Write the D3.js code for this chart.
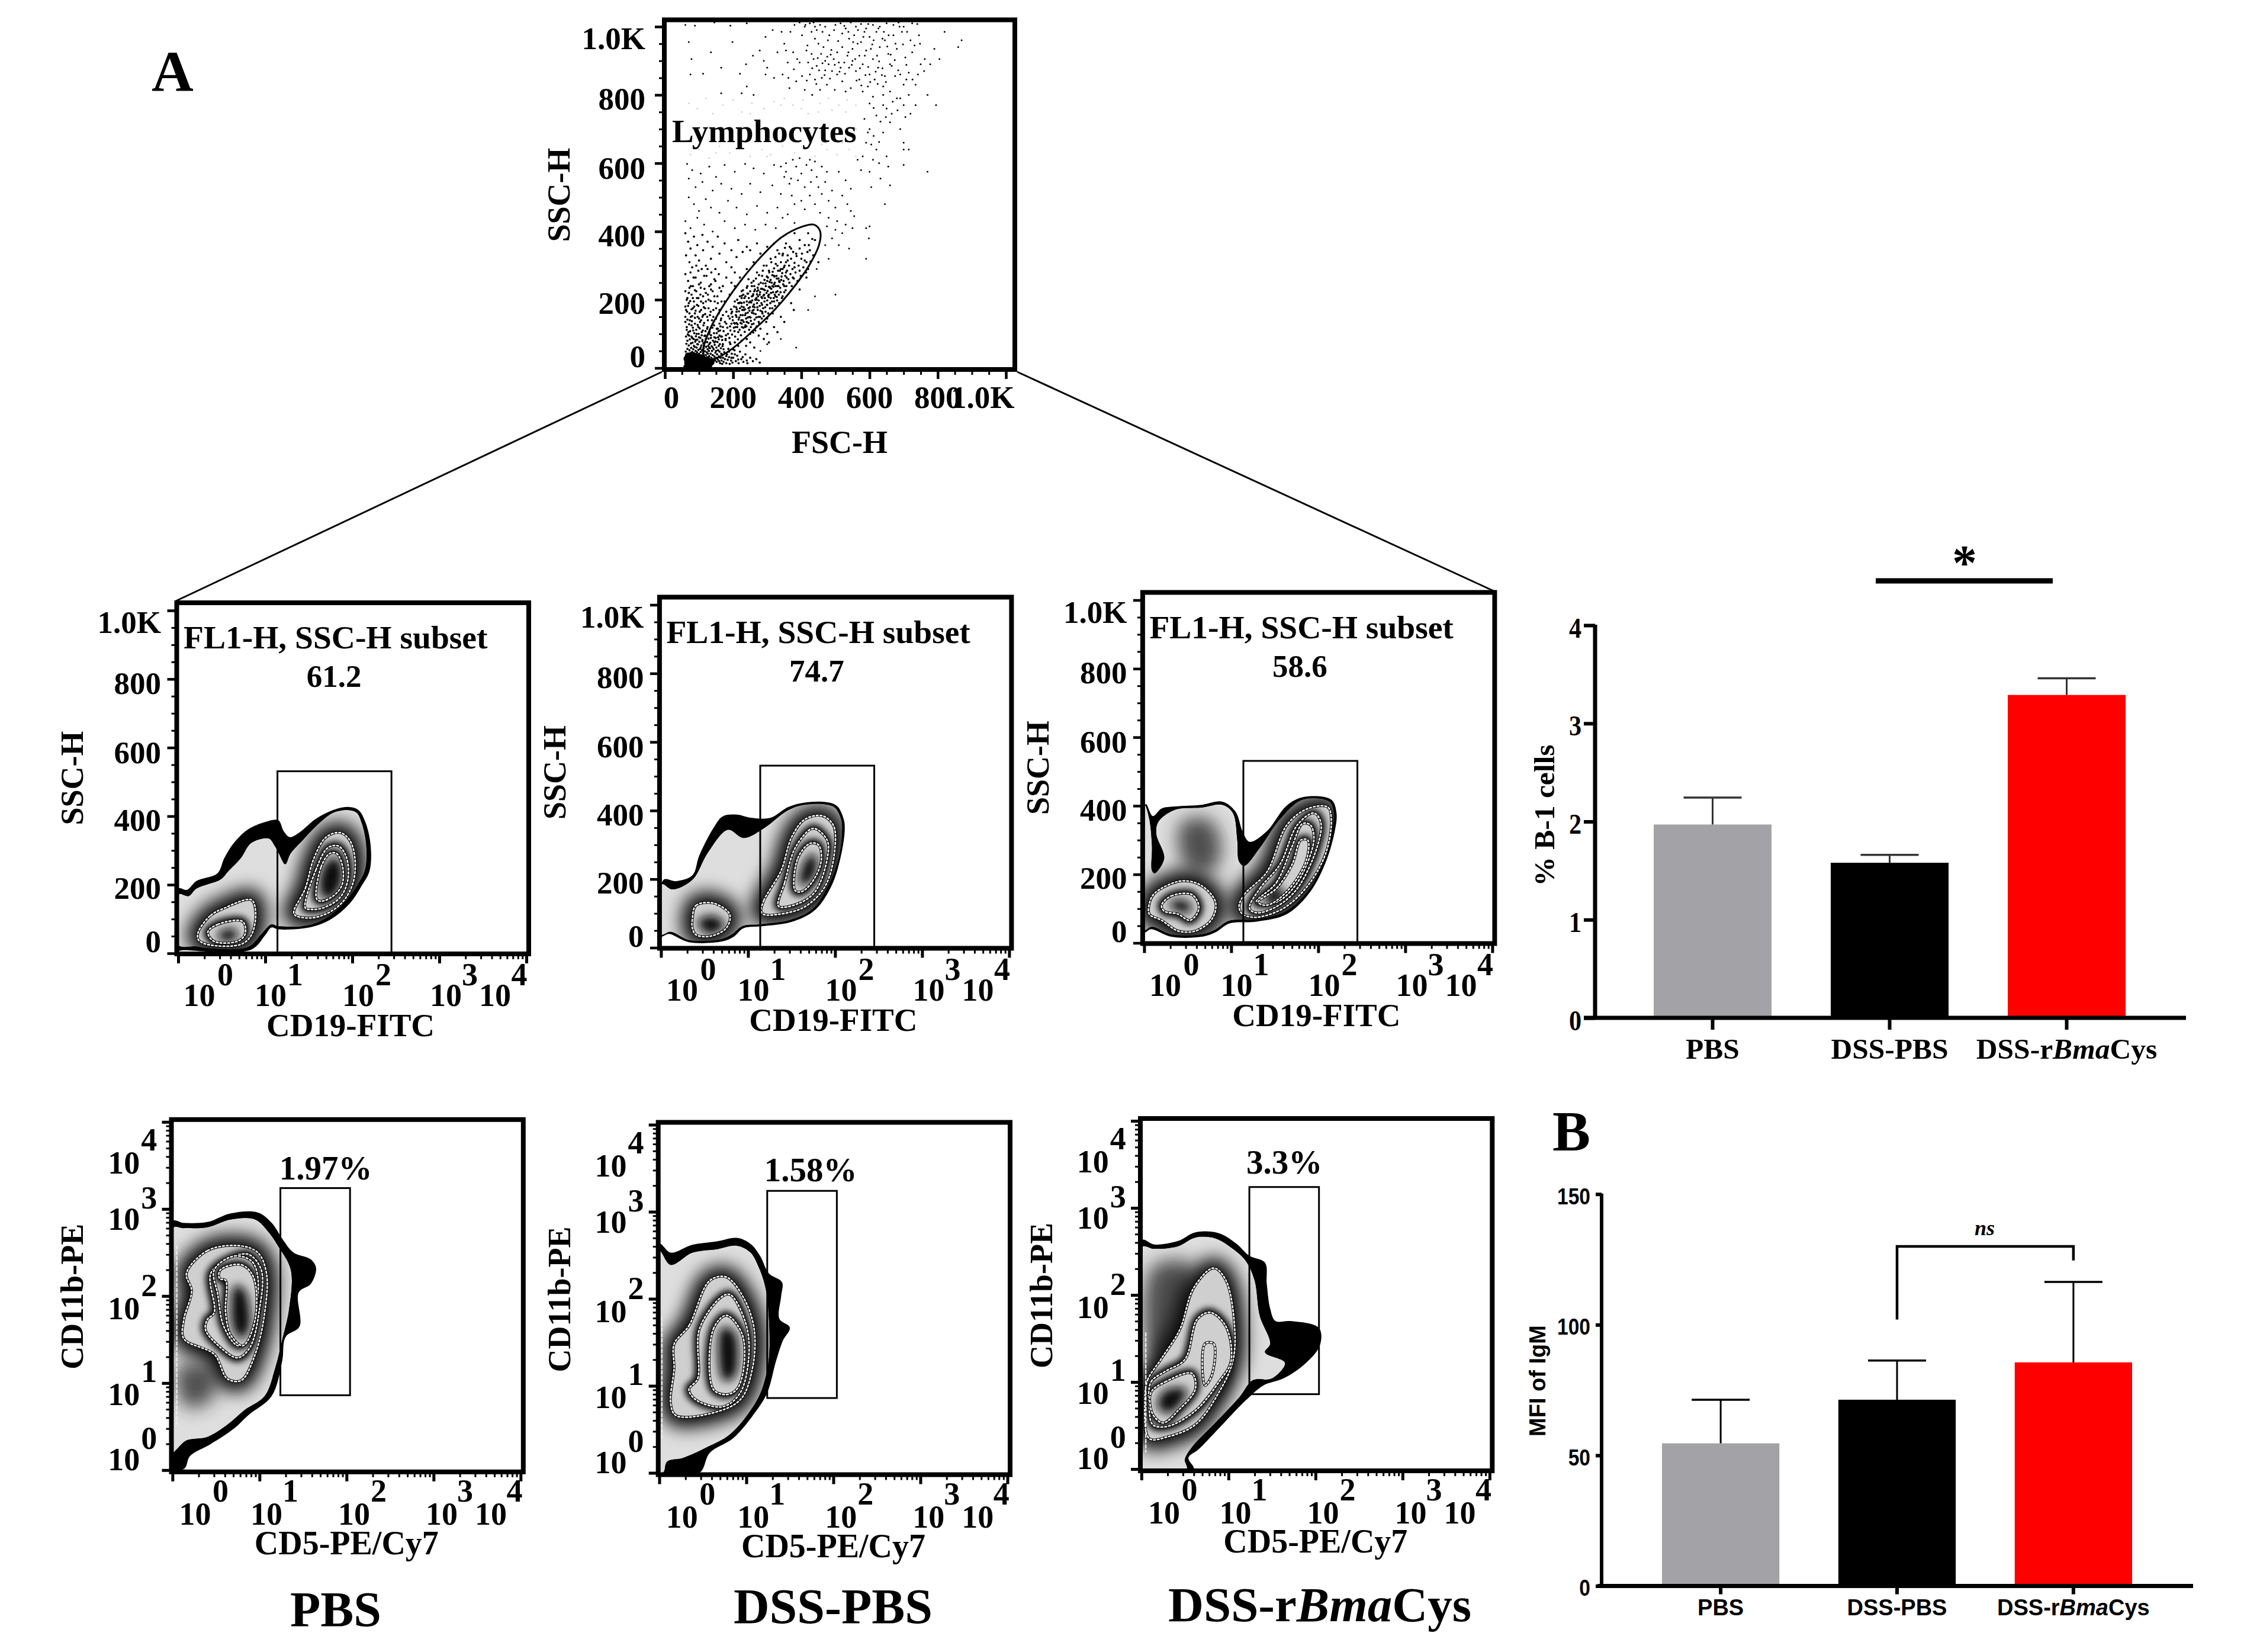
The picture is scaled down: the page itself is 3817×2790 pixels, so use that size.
<!DOCTYPE html>
<html><head><meta charset="utf-8">
<script src="https://cdn.jsdelivr.net/npm/d3@7/dist/d3.min.js"></script>
<style>html,body{margin:0;background:#fff}svg{display:block}
text{font-family:"Liberation Serif",serif;font-weight:700;fill:#000}
.sans{font-family:"Liberation Sans",sans-serif}</style></head><body>
<script>
// ---------- bar charts ----------
const groups = ["PBS","DSS-PBS","DSS-rBmaCys"];
const barColors = ["#a3a2a6","#000000","#ff0000"];
const b1Values = [1.97,1.58,3.29];
const b1Upper  = [2.245,1.66,3.46];
const mfiValues = [54.6,71.3,85.6];
const mfiUpper  = [71.3,86.3,116.4];
const b1Ticks = [0,1,2,3,4];
const mfiTicks = [0,50,100,150];
// ---------- gating percentages ----------
const subsetPct = ["61.2","74.7","58.6"];
const b1Pct = ["1.97%","1.58%","3.3%"];
const sscTicks = [0,200,400,600,800,1000];
const sscTickLabels = ["0","200","400","600","800","1.0K"];
const decadeTicks = [1,10,100,1000,10000];
const decadeExp = ["0","1","2","3","4"];
// ---------- FSC/SSC dots ----------
const gateEllipse = [[112,51],[132,113],[172,184],[222,255],[282,326],[342,383],[402,414],[437,420],[455,401],[452,361],[422,299],[382,242],[322,171],[262,113],[202,60],[152,29],[122,25]];
const faintDots = [[70,775],[95,760],[120,790],[140,745],[170,770],[200,785],[225,750],[255,775],[290,760],[320,780],[350,790],[375,770],[405,785],[430,800],[455,775],[480,790],[510,770],[535,785],[400,760],[420,745],[450,750],[490,755],[530,750],[560,770],[75,625],[100,640],[130,615],[160,650],[190,630],[220,645],[250,620],[285,640],[310,625],[345,650],[380,630],[410,645],[440,620],[475,640],[505,625],[540,640],[560,620],[90,695],[560,700],[555,670],[300,620],[150,630],[460,655],[520,660],[340,770],[250,745]];
const scatterTop = [[60,1005],[88,1003],[145,1012],[192,1003],[240,1010],[70,955],[135,925],[78,905],[75,860],[112,862],[198,955],[220,862],[165,880],[240,825],[225,805],[165,805],[260,800],[295,860],[295,970],[350,950],[355,930],[330,925],[290,900],[300,880],[320,850],[365,820],[380,1005],[395,1012],[410,1000],[425,1010],[430,985],[445,990],[455,1005],[470,1000],[440,965],[450,950],[465,940],[478,960],[458,920],[470,900],[480,890],[495,905],[510,895],[490,870],[505,860],[430,920],[420,895],[445,885],[425,860],[440,845],[460,850],[475,830],[455,815],[500,1005],[515,1010],[530,995],[545,1012],[560,1000],[575,1008],[590,995],[610,1005],[630,1000],[650,1010],[670,1005],[685,1012],[700,1000],[725,1010],[740,1008],[520,980],[540,965],[555,975],[575,955],[600,970],[620,985],[645,960],[670,975],[695,985],[720,960],[745,975],[520,940],[535,915],[550,935],[570,915],[590,930],[610,905],[630,940],[655,920],[680,935],[705,910],[725,925],[750,890],[540,880],[560,870],[580,890],[600,860],[625,880],[645,855],[665,885],[690,860],[715,865],[735,830],[760,870],[520,840],[545,820],[570,845],[595,825],[615,845],[640,825],[660,810],[690,790],[770,800],[795,770],[805,905],[820,985],[790,935],[860,940],[870,960],[402,975],[418,945],[436,905],[470,872],[488,932],[505,925],[515,880],[528,862],[550,900],[565,950],[585,985],[604,935],[622,915],[638,965],[660,890],[675,855],[700,830],[715,800],[440,1000],[415,930],[395,895],[378,875],[360,895],[345,860],[385,840],[410,815],[432,800],[498,815],[530,810],[580,810],[610,795],[640,800],
[448,908],[462,893],[476,912],[452,872],[468,858],[484,848],[432,878],[416,842],[444,832],[486,918],[498,888],[512,868],[526,895],[538,925],[548,888],[558,905],[572,878],[586,915],[596,882],[608,948],[618,868],[628,898],[638,878],[652,942],[662,918],[674,902],[684,872],[698,948],[708,888],[562,842],[576,828],[588,858],[602,838],[624,832],[636,858],[648,838],[412,1005],[436,1012],[462,985],[482,975],[496,990],[508,958],[526,1002],[538,985],[552,955],[566,990],[582,970],[596,1008],[612,960],[626,995],[642,985],[656,975],[676,950],[688,1000],[710,985],[732,945],[748,950],[762,905],[778,890],[742,860],[726,845],[708,845],[368,985],[342,985],[316,990],[278,930],[258,915],[238,890],[402,855],[388,905],[376,925],[362,850]];
const scatterMid = [[600,775],[620,740],[650,760],[680,790],[700,770],[720,745],[660,720],[690,700],[700,660],[715,640],[640,690],[600,700],[590,660],[620,640],[580,620],[565,610],[610,610],[650,620],[700,640],[700,595],[770,575],[640,770],[665,745],[585,730],[595,690],[605,655],[628,600],[655,590],[575,580],[600,575],[632,555],[660,535],[645,480],[605,530],[612,762],[632,722],[668,780],[648,735],[705,735],[682,755],[735,770],[612,680],[628,662]];
const scatterLow = [[65,598],[80,580],[105,570],[130,590],[150,560],[175,595],[205,575],[235,598],[260,585],[290,570],[320,595],[340,590],[355,575],[370,555],[385,590],[400,570],[415,595],[430,580],[445,560],[460,590],[475,575],[355,600],[375,610],[395,615],[425,610],[440,605],[350,560],[365,540],[390,550],[410,530],[428,545],[450,530],[470,545],[490,520],[510,575],[530,550],[545,525],[70,555],[90,530],[110,545],[140,520],[165,540],[195,525],[225,510],[250,540],[280,515],[315,535],[340,510],[372,505],[400,490],[425,505],[440,480],[460,510],[480,490],[500,470],[520,505],[535,480],[555,445],[545,460],[70,500],[85,480],[100,460],[120,495],[135,470],[160,455],[185,490],[210,470],[240,450],[270,475],[300,455],[330,470],[360,450],[380,480],[410,465],[455,455],[480,440],[505,430],[530,420],[550,410],[590,410],[600,415],[598,380],[520,395],[500,405],[475,415],[490,380],[510,360],[540,350],[590,320],[60,430],[75,410],[95,440],[115,420],[140,400],[175,430],[205,410],[235,420],[265,405],[295,420],[325,410],[345,440],[380,425],[470,360],[480,320],[445,290],[500,215],[385,60],[340,85],[280,50],[300,70],[420,170],[440,210]];
const scatterLeft = [[60,395],[68,370],[75,350],[85,385],[95,360],[110,390],[125,370],[140,355],[155,385],[175,365],[195,345],[215,375],[240,355],[62,330],[72,310],[80,295],[90,330],[100,315],[112,345],[120,300],[135,320],[148,290],[160,335],[180,310],[195,295],[210,325],[228,340],[250,345],[270,365],[60,275],[68,255],[75,280],[82,240],[90,265],[98,285],[105,250],[115,270],[125,290],[135,245],[145,260],[158,275],[170,240],[180,265],[195,250],[205,280],[60,225],[66,205],[72,235],[78,215],[85,195],[92,225],[98,205],[105,235],[112,190],[120,220],[128,200],[135,230],[145,210],[155,190],[165,225],[60,180],[65,165],[70,190],[76,150],[82,175],[88,160],[94,185],[100,145],[106,170],[112,155],[118,175],[126,140],[134,165],[142,150],[150,175],[160,130],[60,135],[64,120],[69,105],[73,140],[78,125],[83,110],[88,130],[93,100],[98,120],[103,135],[108,105],[113,125],[118,95],[124,115],[130,100],[62,92],[66,80],[71,95],[76,72],[80,88],[85,65],[90,82],[95,70],[100,90],[105,60],[110,78],[115,65],[120,85],[125,55],[130,70],[135,88],[140,60],[145,75],[150,50],[158,65],[165,42],[172,55],[180,35],[188,48],[195,30],[205,40],[215,25],[228,32],[240,22]];
const scatterFoot = [[61,48],[63,71],[64,112],[66,56],[67,98],[68,40],[70,66],[71,128],[72,52],[73,84],[74,108],[75,44],[77,59],[78,92],[79,137],[80,47],[81,74],[82,118],[83,55],[84,85],[85,44],[86,102],[87,62],[88,147],[89,77],[90,50],[91,93],[92,112],[93,60],[94,46],[95,83],[96,126],[97,69],[98,53],[99,100],[100,42],[101,77],[102,116],[103,56],[104,88],[105,47],[106,140],[107,66],[108,96],[109,52],[110,82],[111,110],[112,43],[113,72],[114,58],[115,132],[116,94],[117,49],[118,75],[119,108],[120,38],[121,62],[122,90],[123,46],[124,76],[125,120],[126,42],[127,65],[128,86],[129,50],[130,35],[131,106],[132,58],[133,74],[134,42],[135,96],[136,30],[137,64],[138,50],[139,118],[140,38],[141,80],[142,26],[143,55],[144,102],[145,34],[146,68],[147,22],[148,45],[149,88],[150,30],[151,60],[152,18],[153,40],[154,76],[155,25],[156,52],[157,108],[158,34],[159,20],[160,48],[161,70],[162,14],[163,30],[164,58],[165,92],[166,22],[167,40],[168,12],[169,64],[170,30],[172,18],[174,46],[176,26],[178,82],[180,14],[182,40],[184,24],[186,56],[188,32],[190,12],[192,70],[194,22],[196,42],[198,16],[200,30],[204,52],[208,20],[212,36],[216,14],[220,48],[224,26],[230,18],[236,40],[242,14],[250,30],[258,20],[268,26],[278,16],
[60,150],[62,170],[64,200],[66,142],[68,182],[70,220],[72,160],[74,196],[76,240],[78,172],[80,152],[82,205],[84,265],[86,180],[88,228],[90,168],[92,300],[94,205],[96,150],[98,182],[100,245],[102,165],[104,215],[106,195],[108,290],[110,150],[112,210],[114,178],[116,232],[118,158],[120,195],[122,270],[124,150],[126,215],[128,175],[130,240],[132,155],[134,196],[136,280],[138,140],[140,225],[142,170],[144,125],[146,195],[148,255],[150,145],[152,115],[154,210],[156,90],[158,160],[160,235],[162,110],[164,140],[166,195],[168,82],[170,155]];
const scatterGate = [[130,60],[145,90],[155,115],[170,70],[185,100],[195,130],[165,145],[180,165],[205,75],[215,105],[225,130],[240,85],[195,160],[210,150],[220,175],[205,195],[235,120],[250,100],[260,130],[235,155],[245,175],[260,160],[275,135],[225,205],[240,195],[255,210],[270,190],[285,165],[300,145],[225,225],[240,235],[255,240],[270,225],[285,205],[300,185],[315,175],[245,260],[260,255],[275,245],[290,230],[305,215],[320,195],[335,190],[270,280],[285,270],[300,255],[315,240],[330,225],[345,210],[290,300],[305,285],[320,270],[335,255],[350,240],[365,250],[310,320],[325,305],[340,290],[355,280],[375,265],[330,345],[345,330],[360,315],[380,295],[395,285],[355,365],[370,350],[385,335],[400,320],[415,310],[380,395],[395,375],[410,360],[425,345],[435,330],[420,395],[440,375],[225,190],[230,215],[242,218],[250,195],[262,225],[268,205],[278,215],[292,195],[298,220],[308,235],[310,205],[322,215],[210,165],[218,190],[232,170],[248,150],[258,180],[272,170],[285,185],[295,165],[205,130],[212,120],[228,140],[240,135],[252,120],[265,110],[280,115],[180,130],[190,145],[170,120],[160,95],[178,85],[190,75],[200,55],[215,65],[225,80],[238,65],[250,75],[262,60],[300,100],[320,120],[340,150],[370,190],[395,230],[415,265],[450,310],[420,290],[275,95],[290,85],[305,75],[330,105],[350,135],[378,170],[160,170],[175,195],[190,215],[205,240],[220,265],[240,290],[260,310],[280,335],[300,355],[320,365]];
const scatterDense = [[148,78],[152,102],[158,84],[163,122],[167,92],[172,108],[176,135],[179,96],[183,118],[186,152],[189,88],[192,110],[194,172],[197,98],[199,140],[202,118],[203,180],[206,92],[208,155],[210,132],[212,200],[214,84],[216,142],[217,166],[219,112],[220,210],[222,155],[223,96],[225,180],[226,120],[228,155],[229,228],[231,135],[232,192],[234,106],[235,172],[236,210],[238,145],[239,122],[241,185],[242,240],[243,162],[245,132],[246,205],[247,112],[249,178],[250,225],[251,148],[253,192],[254,250],[255,128],[257,168],[258,212],[259,104],[261,186],[262,240],[263,142],[265,200],[266,158],[267,262],[269,122],[270,216],[271,178],[272,235],[274,150],[275,198],[276,272],[277,130],[279,222],[280,168],[281,250],[283,190],[284,145],[285,232],[287,285],[288,175],[289,212],[290,152],[292,258],[293,205],[294,178],[296,240],[297,135],[298,300],[299,185],[301,226],[302,265],[303,160],[304,208],[306,280],[307,238],[308,175],[310,258],[311,220],[312,310],[314,195],[315,272],[316,160],[318,238],[319,205],[320,292],[322,250],[323,182],[324,325],[326,222],[327,270],[329,198],[330,300],[331,240],[333,262],[334,215],[335,335],[337,285],[338,235],[340,310],[341,258],[343,205],[344,278],[346,335],[347,245],[349,295],[350,222],[352,352],[353,270],[355,310],[356,240],[358,285],[360,330],[362,260],[364,300],[366,355],[368,275],[370,320],[372,240],[374,290],[376,340],[378,262],[380,308],[383,280],[386,328],[389,255],[392,300],[395,350],[398,270],[402,335],[406,295],[410,315],[414,280],[418,340],[422,360],[427,312],[432,378],
[191,122],[197,165],[204,108],[209,178],[213,128],[218,148],[221,192],[224,140],[227,170],[230,118],[233,205],[237,160],[240,135],[244,218],[248,168],[252,138],[256,198],[260,170],[264,230],[268,148],[273,210],[278,182],[282,232],[286,160],[291,215],[295,248],[300,198],[305,238],[309,190],[313,250],[317,222],[321,268],[325,240],[328,208],[332,285],[336,252],[339,222],[342,268],[345,290],[348,255],[351,300],[354,228],[357,265],[198,150],[203,132],[207,120],[211,172],[215,190],[222,132],[226,212],[231,178],[236,125],[243,148],[247,192],[255,162],[259,216],[263,178],[269,200],[274,228],[279,150],[283,208],[288,248],[293,228],[299,268],[303,212],[307,252],[312,232],[316,282],[320,245],[324,210],[328,262],[333,240]];
const scatterCore = [[64,4],[74,8],[84,5],[94,9],[104,6],[114,8],[122,5],[66,16],[76,19],[86,15],[96,18],[106,16],[116,18],[123,13],[64,27],[74,28],[84,25],[94,27],[104,26],[114,24],[68,36],[78,37],[88,35],[98,33],[108,31],[130,9],[136,17],[124,25]];
// ---------- contour outlines: [log10 x, SSC] ----------
const pbsCd19Outer = [[0,189],[.10,185],[.21,211],[.45,233],[.53,278],[.64,322],[.80,361],[1,383],[1.15,388],[1.21,357],[1.28,339],[1.39,352],[1.58,392],[1.78,418],[1.95,427],[2.07,418],[2.15,383],[2.21,317],[2.20,242],[2.11,198],[1.97,145],[1.74,97],[1.50,75],[1.15,70],[1.07,75],[1,53],[.84,11],[.06,9],[0,9]];
const pbsCd19Inner = [[0,172],[.12,167],[.21,189],[.49,216],[.57,238],[.72,278],[.84,322],[1.04,335],[1.11,313],[1.15,295],[1.23,260],[1.29,291],[1.43,330],[1.58,370],[1.78,410],[1.95,418],[2.05,410],[2.11,379],[2.16,317],[2.15,247],[2.07,203],[1.93,154],[1.72,106],[1.48,81],[1.15,79],[1.07,84],[.96,57],[.80,18],[.33,15],[.21,20],[0,24]];
const pbsCd19Levels = [[[[1.33,115],[1.46,189],[1.56,278],[1.70,339],[1.86,352],[1.97,330],[2.03,278],[2.01,207],[1.89,150],[1.70,115],[1.50,103]],[[1.46,132],[1.58,242],[1.72,308],[1.84,313],[1.93,282],[1.95,216],[1.86,163],[1.66,132],[1.52,128]],[[1.59,159],[1.64,251],[1.74,291],[1.82,291],[1.89,251],[1.88,198],[1.78,167],[1.64,152]]],[[[.23,62],[.37,110],[.53,132],[.84,156],[.89,119],[.84,53],[.72,26],[.33,26],[.23,40]],[[.34,62],[.45,84],[.74,93],[.77,57],[.68,35],[.41,35]]]];
const pbsCd19Cores = [[[1.66,172],[1.65,225],[1.74,269],[1.82,273],[1.87,242],[1.85,198],[1.74,163]],[[.47,53],[.57,66],[.66,62],[.64,44],[.53,40]]];
const dssCd19Outer = [[.03,198],[.17,194],[.36,211],[.44,269],[.60,348],[.71,383],[.87,388],[1.03,379],[1.26,379],[1.46,410],[1.65,423],[1.89,425],[2.02,414],[2.10,374],[2.11,339],[2.06,260],[1.96,181],[1.77,110],[1.50,75],[1.14,62],[.95,57],[.83,31],[.70,18],[.32,16],[.09,40],[0,33]];
const dssCd19Inner = [[.01,185],[.13,170],[.36,198],[.54,278],[.77,344],[.95,320],[1.18,348],[1.46,401],[1.65,417],[1.89,418],[2,408],[2.07,374],[2.08,339],[2.04,260],[1.93,185],[1.75,115],[1.50,82],[1.14,68],[.94,63],[.81,38],[.68,24],[.32,22],[.11,46],[0,38]];
const dssCd19Levels = [[[[1.15,106],[1.18,137],[1.38,225],[1.50,322],[1.65,374],[1.85,385],[1.98,357],[2,295],[1.89,181],[1.65,119],[1.34,97],[1.18,97]],[[1.35,121],[1.42,189],[1.55,295],[1.75,348],[1.91,313],[1.91,260],[1.77,163],[1.57,128]],[[1.54,167],[1.57,260],[1.71,304],[1.81,300],[1.84,251],[1.73,189],[1.61,163]]],[[[.36,84],[.40,123],[.60,130],[.79,97],[.75,57],[.56,33],[.40,38],[.36,57]]]];
const dssCd19Cores = [[[1.61,189],[1.67,251],[1.75,269],[1.77,225],[1.67,189]],[[.44,75],[.60,88],[.71,66],[.56,44]]];
const bmaCd19Outer = [[.02,405],[.10,370],[.20,392],[.35,398],[.66,403],[.90,412],[1.05,383],[1.13,326],[1.21,295],[1.41,326],[1.64,401],[1.84,426],[2.15,418],[2.21,379],[2.19,326],[2.09,238],[1.91,150],[1.64,84],[1.29,62],[.98,57],[.82,31],[.66,18],[.31,18],[.08,40],[0,31]];
const bmaCd19Inner = [[.01,401],[.06,361],[.09,282],[.09,211],[.12,203],[.23,247],[.14,317],[.16,352],[.35,388],[.66,395],[.90,403],[1.02,379],[1.07,300],[1.09,238],[1.15,225],[1.33,278],[1.56,361],[1.82,418],[2.13,412],[2.18,379],[2.16,326],[2.06,238],[1.89,154],[1.62,91],[1.29,69],[.97,64],[.81,38],[.66,25],[.31,25],[.09,47],[0,38]];
const bmaCd19Levels = [[[[1.09,106],[1.15,141],[1.41,207],[1.64,344],[1.88,392],[2.11,396],[2.15,361],[2.09,264],[1.88,167],[1.60,101],[1.29,75],[1.13,84]],[[1.21,101],[1.33,159],[1.56,229],[1.76,344],[1.95,379],[2.03,352],[1.99,282],[1.76,159],[1.52,106],[1.29,88]],[[1.29,119],[1.52,176],[1.70,282],[1.82,348],[1.91,344],[1.95,300],[1.76,176],[1.52,119]],[[1.31,119],[1.52,159],[1.70,229],[1.80,300],[1.88,300],[1.86,238],[1.64,150],[1.41,110]]],[[[.06,115],[.12,145],[.43,181],[.66,167],[.82,119],[.78,70],[.59,35],[.39,35],[.20,66],[.06,84]],[[.20,110],[.31,137],[.55,141],[.63,101],[.53,66],[.39,84],[.23,93]]]];
const bmaCd19Cores = [[[1.39,123],[1.52,159],[1.60,141],[1.46,115]],[[.31,115],[.47,119],[.53,97],[.39,97]]];
const bmaCd19Shades = [[[.45,345],[.75,350],[.85,260],[.75,215],[.50,230]]];
// ---------- contour outlines: [log10 CD5, log10 CD11b] ----------
const pbsCd5Outer = [[0,2.86],[.13,2.84],[.40,2.85],[.67,2.95],[.98,2.96],[1.14,2.84],[1.26,2.66],[1.39,2.50],[1.59,2.42],[1.65,2.32],[1.59,2.14],[1.45,2.04],[1.46,1.65],[1.30,1.53],[1.26,1.25],[1.14,.85],[.87,.63],[.71,.48],[.44,.30],[.20,.16],[.14,.02],[0,0]];
const pbsCd5Inner = [[0,2.78],[.13,2.78],[.40,2.79],[.67,2.88],[.95,2.88],[1.10,2.74],[1.21,2.58],[1.36,2.30],[1.34,1.85],[1.26,1.49],[1.18,1.17],[1.06,.85],[.83,.69],[.63,.52],[.40,.38],[.16,.34],[.05,.24],[0,.20]];
const pbsCd5Levels = [[[[.16,2.26],[.40,2.52],[.75,2.58],[.98,2.5],[1.08,2.26],[1.06,1.81],[.95,1.33],[.79,1.03],[.63,1.05],[.48,1.33],[.13,1.51],[.13,1.73],[.22,2.06]],[[.44,2.26],[.63,2.42],[.87,2.48],[1.02,2.3],[1,1.85],[.89,1.41],[.75,1.29],[.55,1.41],[.38,1.61],[.40,1.73],[.48,1.81]],[[.48,2.3],[.71,2.46],[.91,2.4],[.98,2.22],[.96,1.85],[.87,1.49],[.75,1.43],[.59,1.65],[.52,2.02]],[[.55,2.3],[.79,2.36],[.93,2.22],[.95,1.73],[.81,1.43],[.67,1.55],[.61,1.81],[.61,2.18],[.54,2.2]]]];
const pbsCd5Cores = [[[.73,2.10],[.81,2.06],[.87,1.65],[.79,1.53],[.71,1.65]]];
const pbsCd5Shades = [[[.10,1.17],[.44,1.13],[.40,.81],[.16,.77]]];
const dssCd5Outer = [[0,2.63],[.13,2.53],[.38,2.62],[.66,2.66],[.89,2.70],[1.05,2.63],[1.16,2.49],[1.26,2.29],[1.41,2.19],[1.40,2.03],[1.38,1.77],[1.50,1.67],[1.42,1.52],[1.34,1.28],[1.24,.92],[1.09,.68],[.85,.40],[.58,.23],[.46,0],[0,0]];
const dssCd5Inner = [[0,2.55],[.13,2.39],[.38,2.53],[.66,2.57],[.89,2.61],[1.05,2.53],[1.14,2.37],[1.22,2.13],[1.26,1.77],[1.26,1.32],[1.18,.96],[1.05,.72],[.81,.44],[.54,.29],[.27,.17],[.09,.13],[.05,.01],[0,0]];
const dssCd5Levels = [[[[.17,1.48],[.34,1.69],[.58,2.21],[.77,2.25],[.97,2.01],[1.09,1.65],[1.07,1.20],[.93,.84],[.58,.68],[.19,.66],[.13,.80],[.17,1.20]],[[.34,.96],[.44,1.08],[.46,1.65],[.70,2.01],[.81,2.05],[.99,1.73],[1.03,1.36],[.93,.92],[.73,.76],[.42,.84]],[[.62,.96],[.62,1.65],[.77,1.81],[.95,1.60],[.97,1.20],[.89,.96],[.77,.90]]]];
const dssCd5Cores = [[[.73,1.65],[.85,1.60],[.85,1.12],[.75,1.08]]];
const bmaCd5Outer = [[0,2.63],[.15,2.58],[.42,2.62],[.62,2.72],[.89,2.71],[1.09,2.59],[1.24,2.45],[1.42,2.37],[1.44,2.13],[1.48,1.84],[1.54,1.70],[1.71,1.70],[2.04,1.62],[2.05,1.42],[1.87,1.20],[1.63,1.04],[1.40,.96],[1.20,.79],[.93,.51],[.66,.23],[.54,.13],[.60,0],[0,0]];
const bmaCd5Inner = [[0,2.55],[.15,2.53],[.42,2.56],[.62,2.66],[.85,2.65],[1.05,2.53],[1.20,2.39],[1.30,2.17],[1.36,1.76],[1.48,1.44],[1.42,1.34],[1.65,1.22],[1.50,1.04],[1.28,1.02],[1.13,.83],[.85,.53],[.58,.25],[.50,.11],[.52,0],[0,0]];
const bmaCd5Levels = [[[[.04,.79],[.07,1.02],[.23,1.27],[.44,1.60],[.60,2.08],[.83,2.31],[.97,2.17],[1.07,1.64],[1.05,1.24],[.89,.88],[.62,.51],[.30,.37],[.09,.35]],[[.09,.71],[.11,1],[.27,1.12],[.50,1.26],[.64,1.72],[.79,1.80],[.97,1.64],[1.03,1.24],[.89,1],[.62,.67],[.30,.49],[.13,.51]],[[.11,.88],[.27,1],[.58,1.10],[.62,.92],[.42,.67],[.25,.53],[.13,.63]]],[[[.73,1.44],[.83,1.44],[.81,1.08],[.73,.96]]]];
const bmaCd5Cores = [[[.27,.88],[.50,.9],[.34,.67],[.21,.71]]];
const bmaCd5Shades = [[[.15,2.29],[.54,2.33],[.5,1.72],[.23,1.32],[.13,1.32]]];

// ---------- page ----------
const svg = d3.select("body").append("svg").attr("width",3817).attr("height",2790);
const defs = svg.append("defs");
function blur(id,sd){defs.append("filter").attr("id",id).attr("x","-150%").attr("y","-150%").attr("width","400%").attr("height","400%").append("feGaussianBlur").attr("stdDeviation",sd);}
blur("glow",15);blur("soft",5.5);blur("core",8);
let clipSeq = 0;
function clipFor(d){const id="c"+(++clipSeq);defs.append("clipPath").attr("id",id).append("path").attr("d",d);return `url(#${id})`;}
function txt(g,s,x,y,size,anchor){return g.append("text").attr("x",x).attr("y",y).attr("font-size",size).attr("text-anchor",anchor||"start").text(s);}
function vtxt(g,s,x,y,size){return g.append("text").attr("transform",`translate(${x},${y}) rotate(-90)`).attr("font-size",size).attr("text-anchor","middle").text(s);}
function ticks(g,gen,vals,size,w){const a=g.append("g").call(gen.tickValues(vals).tickSize(size).tickFormat(""));
  a.select(".domain").remove();a.selectAll("line").attr("stroke","#000").attr("stroke-width",w);}
function frame(g,l,t,r,b){g.append("rect").attr("x",l).attr("y",t).attr("width",r-l).attr("height",b-t).attr("fill","none").attr("stroke","#000").attr("stroke-width",8);}

const linMinor = d3.range(50,1000,50).filter(v=>v%200);
const logMinor = []; decadeTicks.slice(0,4).forEach(d=>d3.range(2,10).forEach(m=>logMinor.push(d*m)));
const extSup = [[11,68.5],[131.5,186.5],[279.5,335.5],[427.5,481.5],[510.5,565]];
const sscLabelDrop = [-2,24,25,26,25,38];
function sscLabels(g,y,right){sscTicks.forEach((v,i)=>txt(g,sscTickLabels[i],right,y(v)+sscLabelDrop[i],53,"end"));}

function density(g,px,outer,inner,levels,cores,shades,seam){
  const line=d3.line().curve(d3.curveCatmullRomClosed.alpha(.5)).x(p=>px(p)[0]).y(p=>px(p)[1]);
  g.append("path").attr("d",line(outer)).attr("fill","#000");
  const base=g.append("g").attr("clip-path",clipFor(line(inner)));
  base.append("path").attr("d",line(inner)).attr("fill","#dedede");
  (shades||[]).forEach(s=>base.append("path").attr("d",line(s)).attr("fill","#2a2a2a").attr("stroke","#2a2a2a").attr("stroke-width",10).attr("filter","url(#glow)").attr("opacity",.8));
  levels.forEach(c=>base.append("path").attr("d",line(c[0])).attr("fill","#000").attr("stroke","#000").attr("stroke-width",34).attr("filter","url(#glow)"));
  levels.forEach((c,ci)=>{
    c.forEach((poly,i)=>{
      const d=line(poly);
      const cg=g.append("g").attr("clip-path",clipFor(d));
      cg.append("path").attr("d",d).attr("fill","#cfcfcf");
      if(c[i+1]) cg.append("path").attr("d",line(c[i+1])).attr("fill","#000").attr("stroke","#000").attr("stroke-width",14).attr("filter","url(#soft)");
      else if(cores[ci]) cg.append("path").attr("d",line(cores[ci])).attr("fill","#0d0d0d").attr("stroke","#0d0d0d").attr("stroke-width",6).attr("filter","url(#core)");
      g.append("path").attr("d",d).attr("fill","none").attr("stroke","#000").attr("stroke-width",4.4);
      g.append("path").attr("d",d).attr("fill","none").attr("stroke","#fff").attr("stroke-width",2.4).attr("stroke-dasharray","5 1.5");
    });
  });
  if(seam) g.append("path").attr("d",d3.line().x(p=>px(p)[0]).y(p=>px(p)[1])(seam)).attr("stroke","#eee").attr("stroke-width",2.2).attr("stroke-dasharray","7 2").attr("fill","none");
}

// ---------- top scatter ----------
(function(){
  const x=d3.scaleLinear([0,1000],[1123,1699]), y=d3.scaleLinear([0,1000],[621.5,45]);
  const g=svg.append("g");
  const plot=g.append("g");
  plot.selectAll(".f").data(faintDots).join("circle").attr("cx",d=>x(d[0])).attr("cy",d=>y(d[1])).attr("r",1.4).attr("fill","#cfcfcf");
  plot.selectAll(".k").data([...scatterTop,...scatterMid,...scatterLow]).join("circle")
    .attr("cx",d=>x(d[0])).attr("cy",d=>y(d[1])).attr("r",1.5).attr("fill","#000");
  plot.selectAll(".m").data([...scatterLeft,...scatterFoot,...scatterGate,...scatterDense]).join("circle")
    .attr("cx",d=>x(d[0])).attr("cy",d=>y(d[1])).attr("r",1.9).attr("fill","#000");
  plot.selectAll(".c").data(scatterCore).join("circle").attr("cx",d=>x(d[0])).attr("cy",d=>y(d[1])).attr("r",5.5).attr("fill","#000");
  plot.append("path").attr("d",d3.line().curve(d3.curveCatmullRomClosed.alpha(.5)).x(d=>x(d[0])).y(d=>y(d[1]))(gateEllipse)).attr("fill","none").attr("stroke","#000").attr("stroke-width",3);
  frame(g,1122,33.5,1714,624);
  const by=g.append("g").attr("transform","translate(0,624)"), ly=g.append("g").attr("transform","translate(1122,0)");
  ticks(by,d3.axisBottom(x),sscTicks,16,4.5);ticks(by,d3.axisBottom(x),linMinor,9,3);
  ticks(ly,d3.axisLeft(y),sscTicks,16,4.5);ticks(ly,d3.axisLeft(y),linMinor,9,3);
  sscLabels(g,y,1090);
  sscTicks.forEach((v,i)=>{ if(i<5) txt(g,sscTickLabels[i],i?x(v):1134,689,53,"middle"); });
  txt(g,"1.0K",1606,689,53);
  txt(g,"FSC-H",1418,765,54,"middle");
  vtxt(g,"SSC-H",962,329,54);
  txt(g,"Lymphocytes",1135,240,55);
})();
svg.append("path").attr("d","M1118,628L297,1015M1718,628L2527,1000").attr("stroke","#000").attr("stroke-width",3);

// ---------- CD19 panels ----------
const cd19Sets = [
 {o:pbsCd19Outer,i:pbsCd19Inner,l:pbsCd19Levels,c:pbsCd19Cores,x0:301,y0:1610},
 {o:dssCd19Outer,i:dssCd19Inner,l:dssCd19Levels,c:dssCd19Cores,x0:1116.4,y0:1600.5},
 {o:bmaCd19Outer,i:bmaCd19Inner,l:bmaCd19Levels,c:bmaCd19Cores,s:bmaCd19Shades,x0:1932.4,y0:1592.5}];
cd19Sets.forEach((p,k)=>{
  const x=d3.scaleLog([1,1e4],[p.x0,p.x0+588]), y=d3.scaleLinear([0,1000],[p.y0,p.y0-579]);
  const L=p.x0-2.5,R=p.x0+592,T=p.y0-592,B=p.y0+1;
  const g=svg.append("g");
  const inner=g.append("g").attr("clip-path",clipFor(`M${L},${T}H${R}V${B}H${L}Z`));
  density(inner,q=>[x(Math.pow(10,q[0])),y(q[1])],p.o,p.i,p.l,p.c,p.s);
  const ga=[x(Math.pow(10,1.14)),y(531),x(Math.pow(10,2.45)),y(0)];
  g.append("rect").attr("x",ga[0]).attr("y",ga[1]).attr("width",ga[2]-ga[0]).attr("height",ga[3]-ga[1]).attr("fill","none").attr("stroke","#000").attr("stroke-width",3);
  frame(g,L,T,R,B);
  const bx=g.append("g").attr("transform",`translate(0,${B})`), lx=g.append("g").attr("transform",`translate(${L},0)`);
  ticks(bx,d3.axisBottom(x),decadeTicks,16,5);ticks(bx,d3.axisBottom(x),logMinor,9,3);
  ticks(lx,d3.axisLeft(y),sscTicks,16,4.5);ticks(lx,d3.axisLeft(y),linMinor,9,3);
  sscLabels(g,y,p.x0-29);
  extSup.forEach((e,i)=>{txt(g,"10",L+e[0],p.y0+89,54);txt(g,decadeExp[i],L+e[1],p.y0+54,54);});
  txt(g,"CD19-FITC",p.x0+291,p.y0+140,55,"middle");
  vtxt(g,"SSC-H",p.x0-161,p.y0-296,54);
  txt(g,"FL1-H, SSC-H subset",p.x0+9,p.y0-515,55.5);
  txt(g,subsetPct[k],p.x0+263,p.y0-450,53,"middle");
});

// ---------- CD5 panels ----------
const cd5Sets = [
 {o:pbsCd5Outer,i:pbsCd5Inner,l:pbsCd5Levels,c:pbsCd5Cores,s:pbsCd5Shades,x0:291.3,y0:2482.8,seam:[[.05,2.58],[.05,.52]],pctX:550,pctY:1992,name:"PBS",nameY:2747,cdy:2625,nameX:567},
 {o:dssCd5Outer,i:dssCd5Inner,l:dssCd5Levels,c:dssCd5Cores,x0:1113.5,y0:2487.5,seam:[[.03,1.79],[.03,.39]],pctX:1369,pctY:1995,name:"DSS-PBS",nameY:2742,cdy:2630,nameX:1407},
 {o:bmaCd5Outer,i:bmaCd5Inner,l:bmaCd5Levels,c:bmaCd5Cores,s:bmaCd5Shades,x0:1927.8,y0:2481,seam:[[.05,1.57],[.05,.19]],pctX:2169,pctY:1982,cdy:2622}];
cd5Sets.forEach((p,k)=>{
  const x=d3.scaleLog([1,1e4],[p.x0,p.x0+588]), y=d3.scaleLog([1,1e4],[p.y0,p.y0-588]);
  const L=p.x0-1.8,R=p.x0+592.5,T=p.y0-592,B=p.y0+3;
  const g=svg.append("g");
  const inner=g.append("g").attr("clip-path",clipFor(`M${L},${T}H${R}V${B}H${L}Z`));
  density(inner,q=>[x(Math.pow(10,q[0])),y(Math.pow(10,q[1]))],p.o,p.i,p.l,p.c,p.s,p.seam);
  const x1=x(Math.pow(10,1.24)),x2=x(Math.pow(10,2.04)),y1=y(Math.pow(10,3.24)),y2=y(Math.pow(10,.86));
  g.append("rect").attr("x",x1).attr("y",y1).attr("width",x2-x1).attr("height",y2-y1).attr("fill","none").attr("stroke","#000").attr("stroke-width",3);
  frame(g,L,T,R,B);
  const bx=g.append("g").attr("transform",`translate(0,${B})`), lx=g.append("g").attr("transform",`translate(${L},0)`);
  ticks(bx,d3.axisBottom(x),decadeTicks,16,5);ticks(bx,d3.axisBottom(x),logMinor,9,3);
  ticks(lx,d3.axisLeft(y),decadeTicks,16,5);ticks(lx,d3.axisLeft(y),logMinor,9,3);
  [0,1,2,3,4].forEach(i=>{
    txt(g,"10",p.x0-109,[p.y0,p.y0-110,p.y0-255,p.y0-406,p.y0-501][i],54);
    txt(g,decadeExp[i],p.x0-53,[p.y0-36,p.y0-149,p.y0-294,p.y0-442,p.y0-540][i],54);
  });
  extSup.forEach((e,i)=>{txt(g,"10",L+e[0]+2,p.y0+92,54);txt(g,decadeExp[i],L+e[1]+1,p.y0+53,54);});
  txt(g,"CD5-PE/Cy7",p.x0+294,p.cdy,56,"middle");
  vtxt(g,"CD11b-PE",p.x0-151,p.y0-293,54);
  txt(g,b1Pct[k],p.pctX,p.pctY,57,"middle");
  if(p.name) txt(g,p.name,p.nameX,p.nameY,84,"middle");
  else { const t=txt(g,"",2229,2738,83,"middle");
    t.append("tspan").text("DSS-r");t.append("tspan").attr("font-style","italic").text("Bma");t.append("tspan").text("Cys"); }
});

// ---------- bars ----------
function barChart(o){
  const g=svg.append("g");
  const x=d3.scaleBand().domain(groups).range(o.xr).paddingInner(100/299).paddingOuter(0);
  const y=d3.scaleLinear(o.dom,[o.y0,o.y1]);
  g.selectAll(".bar").data(groups).join("rect").attr("x",d=>x(d)).attr("width",x.bandwidth())
    .attr("y",(d,i)=>y(o.vals[i])).attr("height",(d,i)=>y(0)-y(o.vals[i])).attr("fill",(d,i)=>barColors[i]);
  const c=d=>x(d)+x.bandwidth()/2;
  g.selectAll(".eb").data(groups).join("line").attr("x1",c).attr("x2",c).attr("y1",(d,i)=>y(o.vals[i])).attr("y2",(d,i)=>y(o.up[i])).attr("stroke",o.eb).attr("stroke-width",3);
  g.selectAll(".cap").data(groups).join("line").attr("x1",d=>c(d)-49).attr("x2",d=>c(d)+49).attr("y1",(d,i)=>y(o.up[i])).attr("y2",(d,i)=>y(o.up[i])).attr("stroke",o.eb).attr("stroke-width",3.5);
  const ya=g.append("g").attr("transform",`translate(${o.axX},0)`).call(d3.axisLeft(y).tickValues(o.ticks).tickSize(o.tl).tickFormat(d3.format("d")));
  ya.select(".domain").remove();
  ya.selectAll("line").attr("stroke","#000").attr("stroke-width",o.tw);
  ya.selectAll("text").attr("class",o.cls||null).attr("font-size",o.tf).attr("font-weight",700).attr("fill","#000").attr("text-anchor","end")
    .attr("x",-o.tg/.86).attr("dy",o.tdy).attr("transform","scale(.86,1)");
  g.append("line").attr("x1",o.axX).attr("x2",o.axX).attr("y1",y(o.dom[1])-1).attr("y2",y(0)).attr("stroke","#000").attr("stroke-width",o.axW);
  g.append("line").attr("x1",o.xl[0]).attr("x2",o.xl[1]).attr("y1",y(0)).attr("y2",y(0)).attr("stroke","#000").attr("stroke-width",7);
  g.selectAll(".xt").data(groups).join("line").attr("x1",c).attr("x2",c).attr("y1",y(0)).attr("y2",y(0)+o.xtl).attr("stroke","#000").attr("stroke-width",6);
  groups.forEach(d=>{
    const t=g.append("text").attr("x",c(d)).attr("y",o.ly).attr("font-size",o.lf).attr("text-anchor","middle").attr("class",o.cls||null);
    if(d==="DSS-rBmaCys"){t.append("tspan").text("DSS-r");t.append("tspan").attr("font-style","italic").text("Bma");t.append("tspan").text("Cys");}
    else t.text(d);
  });
  return {g,x,y,c};
}
const A=barChart({xr:[2793,3590],dom:[0,4],y0:1719,y1:1056,vals:b1Values,up:b1Upper,ticks:b1Ticks,eb:"#333",axX:2694,axW:7,tl:19,tw:6,tf:49,tg:23,tdy:"0.41em",xl:[2675,3692],xtl:20,ly:1788,lf:49.5});
vtxt(A.g,"% B-1 cells",2625,1377,49.5);
A.g.append("line").attr("x1",3168).attr("x2",3467).attr("y1",981).attr("y2",981).attr("stroke","#000").attr("stroke-width",9);
txt(A.g,"*",3318,979,84,"middle");
const Bc=barChart({xr:[2807,3601],dom:[0,150],y0:2678.5,y1:2016.7,vals:mfiValues,up:mfiUpper,ticks:mfiTicks,eb:"#000",axX:2705,axW:6,tl:10,tw:6,tf:39,tg:19,tdy:"0.42em",xl:[2698,3704],xtl:14,ly:2728,lf:38,cls:"sans"});
Bc.g.append("text").attr("class","sans").attr("transform","translate(2610,2332) rotate(-90)").attr("font-size",38).attr("text-anchor","middle").text("MFI of IgM");
const bk=[Bc.c("DSS-PBS"),Bc.c("DSS-rBmaCys")];
Bc.g.append("path").attr("d",`M${bk[0]},${Bc.y(102)}V${Bc.y(130)}H${bk[1]}V${Bc.y(124.6)}`).attr("fill","none").attr("stroke","#000").attr("stroke-width",4.5);
txt(Bc.g,"ns",3352,2086,36,"middle").attr("font-style","italic");
txt(svg,"A",256,153,98);
txt(svg,"B",2622,1943,96);
</script></body></html>
